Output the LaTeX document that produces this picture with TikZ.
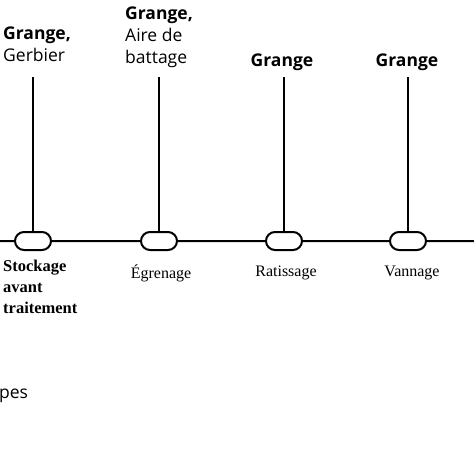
\documentclass[tikz,border=0pt]{standalone}
\usepackage{fontspec}
\setmainfont{Liberation Serif}
\setsansfont{Open Sans}
\usetikzlibrary{positioning, shapes}

\tikzset{
	capsule/.style={draw, line width=2pt, rounded rectangle, fill=white,
		minimum width=36pt, minimum height=18pt, inner sep=0pt},
	place/.style={font=\sffamily\fontsize{17.5}{22}\selectfont, align=left, inner sep=0pt},
	stage/.style={font=\rmfamily\fontsize{16}{21}\selectfont, inner sep=0pt},
	axis/.style={line width=2pt},
	stem/.style={line width=1.6pt}
}

\begin{document}
\begin{tikzpicture}[x=1pt, y=-1pt]
	\useasboundingbox (0,0) rectangle (474,474);
	% capsules on the line
	\foreach \i/\x in {1/33, 2/159, 3/284, 4/408}{
		\node[capsule] (c\i) at (\x,241) {};
		\coordinate (top\i) at (\x,77);
		\draw[stem] (c\i.north) -- (top\i);
	}
	\coordinate (lineL) at (-2,241);
	\coordinate (lineR) at (476,241);
	\draw[axis] (lineL) -- (c1) -- (c2) -- (c3) -- (c4) -- (lineR);

	% places (top)
	\node[place, anchor=north west] (p1) at (3,27) {\textbf{Grange,}\\Gerbier};
	\node[place, anchor=north west] (p2) at (125,7) {\textbf{Grange,}\\Aire de\\battage};
	\node[place] (p3) at (282,62) {\textbf{Grange}};
	\node[place] (p4) at (407,62) {\textbf{Grange}};

	% stages (bottom)
	\node[stage, anchor=north west, align=left, font=\rmfamily\bfseries\fontsize{16.5}{21}\selectfont]
		(s1) at (3,260) {Stockage\\avant\\traitement};
	\node[stage] (s2) at (161,273) {Égrenage};
	\node[stage] (s3) at (286,273) {Ratissage};
	\node[stage] (s4) at (412,273) {Vannage};

	\node[place, anchor=west] (legend) at (-1,396) {pes};
\end{tikzpicture}
\end{document}
